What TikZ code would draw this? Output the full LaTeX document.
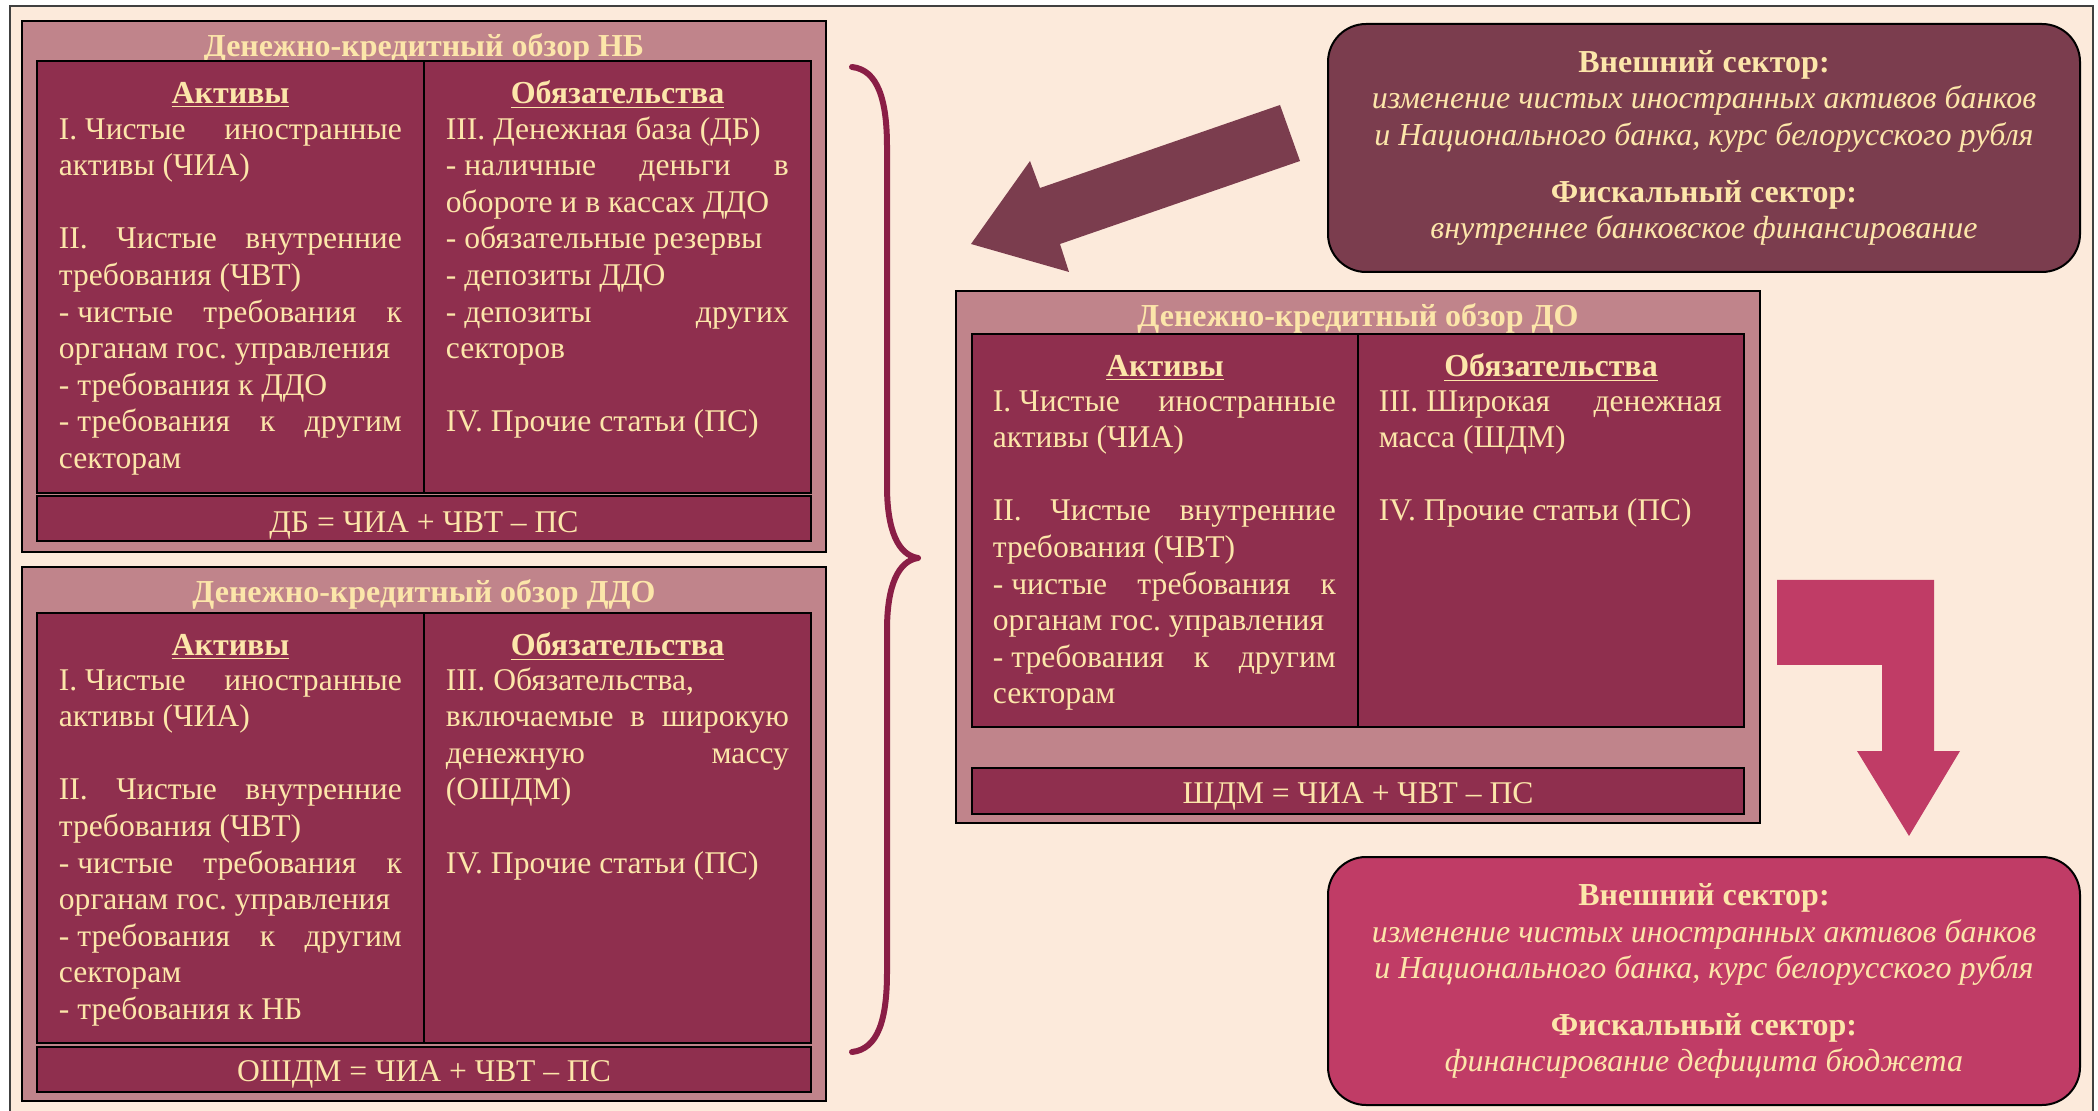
\documentclass[tikz,border=0pt]{standalone}
\usepackage{fontspec}
\setmainfont{Liberation Serif}
\usetikzlibrary{positioning}

\definecolor{paper}{RGB}{252,234,219}
\definecolor{rim}{RGB}{192,132,139}
\definecolor{wine}{RGB}{143,47,78}
\definecolor{cream}{RGB}{252,230,170}
\definecolor{plum}{RGB}{123,61,78}
\definecolor{rose}{RGB}{192,60,102}
\definecolor{bracered}{RGB}{138,30,70}

\frenchspacing
\newlength{\colw}
\setlength{\colw}{171.5pt}
\newcommand{\plainspaces}{\spaceskip=0pt\xspaceskip=0pt\relax}
\newcommand{\fillline}[1]{\leavevmode\hbox to \colw{\plainspaces#1}}
\newcommand{\bodysize}{\fontsize{15.8}{18.3}\selectfont}

\tikzset{
  rimbox/.style={draw=black, line width=1.2pt, fill=rim},
  winebox/.style={draw=black, line width=1.2pt, fill=wine},
  boxtitle/.style={text=cream, anchor=base, font=\bfseries\fontsize{16}{18}\selectfont},
  colhead/.style={text=cream, anchor=base, font=\bfseries\fontsize{16}{18}\selectfont},
  coltext/.style={text=cream, font=\bodysize, text width=\colw, align=left, inner sep=0pt, anchor=north west},
  eqtext/.style={text=cream, anchor=base, font=\bodysize},
  sector/.style={draw=black, line width=1pt, rounded corners=19pt, minimum width=376pt, minimum height=124pt, text=cream, align=center, font=\fontsize{16}{18.3}\selectfont, inner sep=0pt},
}

\begin{document}
\begin{tikzpicture}[x=0.5pt, y=-0.5pt]
  \clip (0,0) rectangle (2098,1111);
  \fill[white] (0,0) rectangle (2098,1111);
  \draw[fill=paper, draw=black!75, line width=1pt] (10,6) rectangle (2093,1118);

  % Denezhno-kreditnyj obzor NB
  \draw[rimbox] (22,21) rectangle (826,552);
  \node[boxtitle] (nbtitle) at (424,57) {Денежно-кредитный обзор НБ};
  \draw[winebox] (37,61) rectangle (811,493);
  \draw[line width=1.2pt] (424,61) -- (424,493);
  \node[colhead] (nbact) at (230.5,104) {\underline{Активы}};
  \node[colhead] (nbliab) at (617.5,104) {\underline{Обязательства}};
  \node[coltext] (nbacttext) at (58.5,113) {\plainspaces\strut\fillline{\mbox{I. Чистые} иностранные}\\ активы (ЧИА)\\ \mbox{}\\ \fillline{II. Чистые внутренние}\\ требования (ЧВТ)\\ \fillline{\mbox{- чистые} требования к}\\ органам гос. управления\\ - требования к ДДО\\ \fillline{\mbox{- требования} к другим}\\ секторам};
  \node[coltext] (nbliabtext) at (445.5,113) {\plainspaces\strut III. Денежная база (ДБ)\\ \fillline{\mbox{- наличные} деньги в}\\ обороте и в кассах ДДО\\ - обязательные резервы\\ - депозиты ДДО\\ \fillline{\mbox{- депозиты} других}\\ секторов\\ \mbox{}\\ IV. Прочие статьи (ПС)};
  \draw[winebox] (37,496) rectangle (811,541);
  \node[eqtext] (nbeq) at (424,533) {ДБ = ЧИА + ЧВТ – ПС};

  % Denezhno-kreditnyj obzor DDO
  \draw[rimbox] (22,567) rectangle (826,1101);
  \node[boxtitle] (ddotitle) at (424,603) {Денежно-кредитный обзор ДДО};
  \draw[winebox] (37,613) rectangle (811,1043);
  \draw[line width=1.2pt] (424,613) -- (424,1043);
  \node[colhead] (ddoact) at (230.5,656) {\underline{Активы}};
  \node[colhead] (ddoliab) at (617.5,656) {\underline{Обязательства}};
  \node[coltext] (ddoacttext) at (58.5,664) {\plainspaces\strut\fillline{\mbox{I. Чистые} иностранные}\\ активы (ЧИА)\\ \mbox{}\\ \fillline{II. Чистые внутренние}\\ требования (ЧВТ)\\ \fillline{\mbox{- чистые} требования к}\\ органам гос. управления\\ \fillline{\mbox{- требования} к другим}\\ секторам\\ - требования к НБ};
  \node[coltext] (ddoliabtext) at (445.5,664) {\plainspaces\strut III. Обязательства,\\ \fillline{включаемые в широкую}\\ \fillline{денежную массу}\\ (ОШДМ)\\ \mbox{}\\ IV. Прочие статьи (ПС)};
  \draw[winebox] (37,1047) rectangle (811,1092);
  \node[eqtext] (ddoeq) at (424,1081) {ОШДМ = ЧИА + ЧВТ – ПС};

  % Denezhno-kreditnyj obzor DO
  \draw[rimbox] (956,291) rectangle (1760,823);
  \node[boxtitle] (dotitle) at (1358,326.5) {Денежно-кредитный обзор ДО};
  \draw[winebox] (972,334) rectangle (1744,727);
  \draw[line width=1.2pt] (1358,334) -- (1358,727);
  \node[colhead] (doact) at (1165,377) {\underline{Активы}};
  \node[colhead] (doliab) at (1551,377) {\underline{Обязательства}};
  \node[coltext] (doacttext) at (992.5,385) {\plainspaces\strut\fillline{\mbox{I. Чистые} иностранные}\\ активы (ЧИА)\\ \mbox{}\\ \fillline{II. Чистые внутренние}\\ требования (ЧВТ)\\ \fillline{\mbox{- чистые} требования к}\\ органам гос. управления\\ \fillline{\mbox{- требования} к другим}\\ секторам};
  \node[coltext] (doliabtext) at (1378.5,385) {\plainspaces\strut\fillline{\mbox{III. Широкая} денежная}\\ масса (ШДМ)\\ \mbox{}\\ IV. Прочие статьи (ПС)};
  \draw[winebox] (972,768) rectangle (1744,814);
  \node[eqtext] (doeq) at (1358,803) {ШДМ = ЧИА + ЧВТ – ПС};

  % brace
  \draw[bracered, line width=3pt, line cap=round, line join=round] (852,67) .. controls (878,70) and (887,100) .. (887,147) -- (887,486) .. controls (887,530) and (898,555) .. (918,558) .. controls (898,561) and (887,586) .. (887,630) -- (887,972) .. controls (887,1020) and (878,1049) .. (852,1052);

  % sectors
  \node[sector, fill=plum] (topsector) at (1704,148) {{\bfseries Внешний сектор:}\\ \textit{изменение чистых иностранных активов банков}\\ \textit{и Национального банка, курс белорусского рубля}\\[10pt] {\bfseries Фискальный сектор:}\\ \textit{внутреннее банковское финансирование}};
  \node[sector, fill=rose] (botsector) at (1704,981) {{\bfseries Внешний сектор:}\\ \textit{изменение чистых иностранных активов банков}\\ \textit{и Национального банка, курс белорусского рубля}\\[10pt] {\bfseries Фискальный сектор:}\\ \textit{финансирование дефицита бюджета}};

  % block arrows
  \fill[plum] (1280,105) -- (1300,161) -- (1060,244) -- (1069,272) -- (971,244) -- (1030,161) -- (1040,188) -- cycle;
  \fill[rose] (1777,580) -- (1934,580) -- (1934,751) -- (1960,751) -- (1909,836) -- (1857,751) -- (1882,751) -- (1882,665) -- (1777,665) -- cycle;
\end{tikzpicture}
\end{document}
